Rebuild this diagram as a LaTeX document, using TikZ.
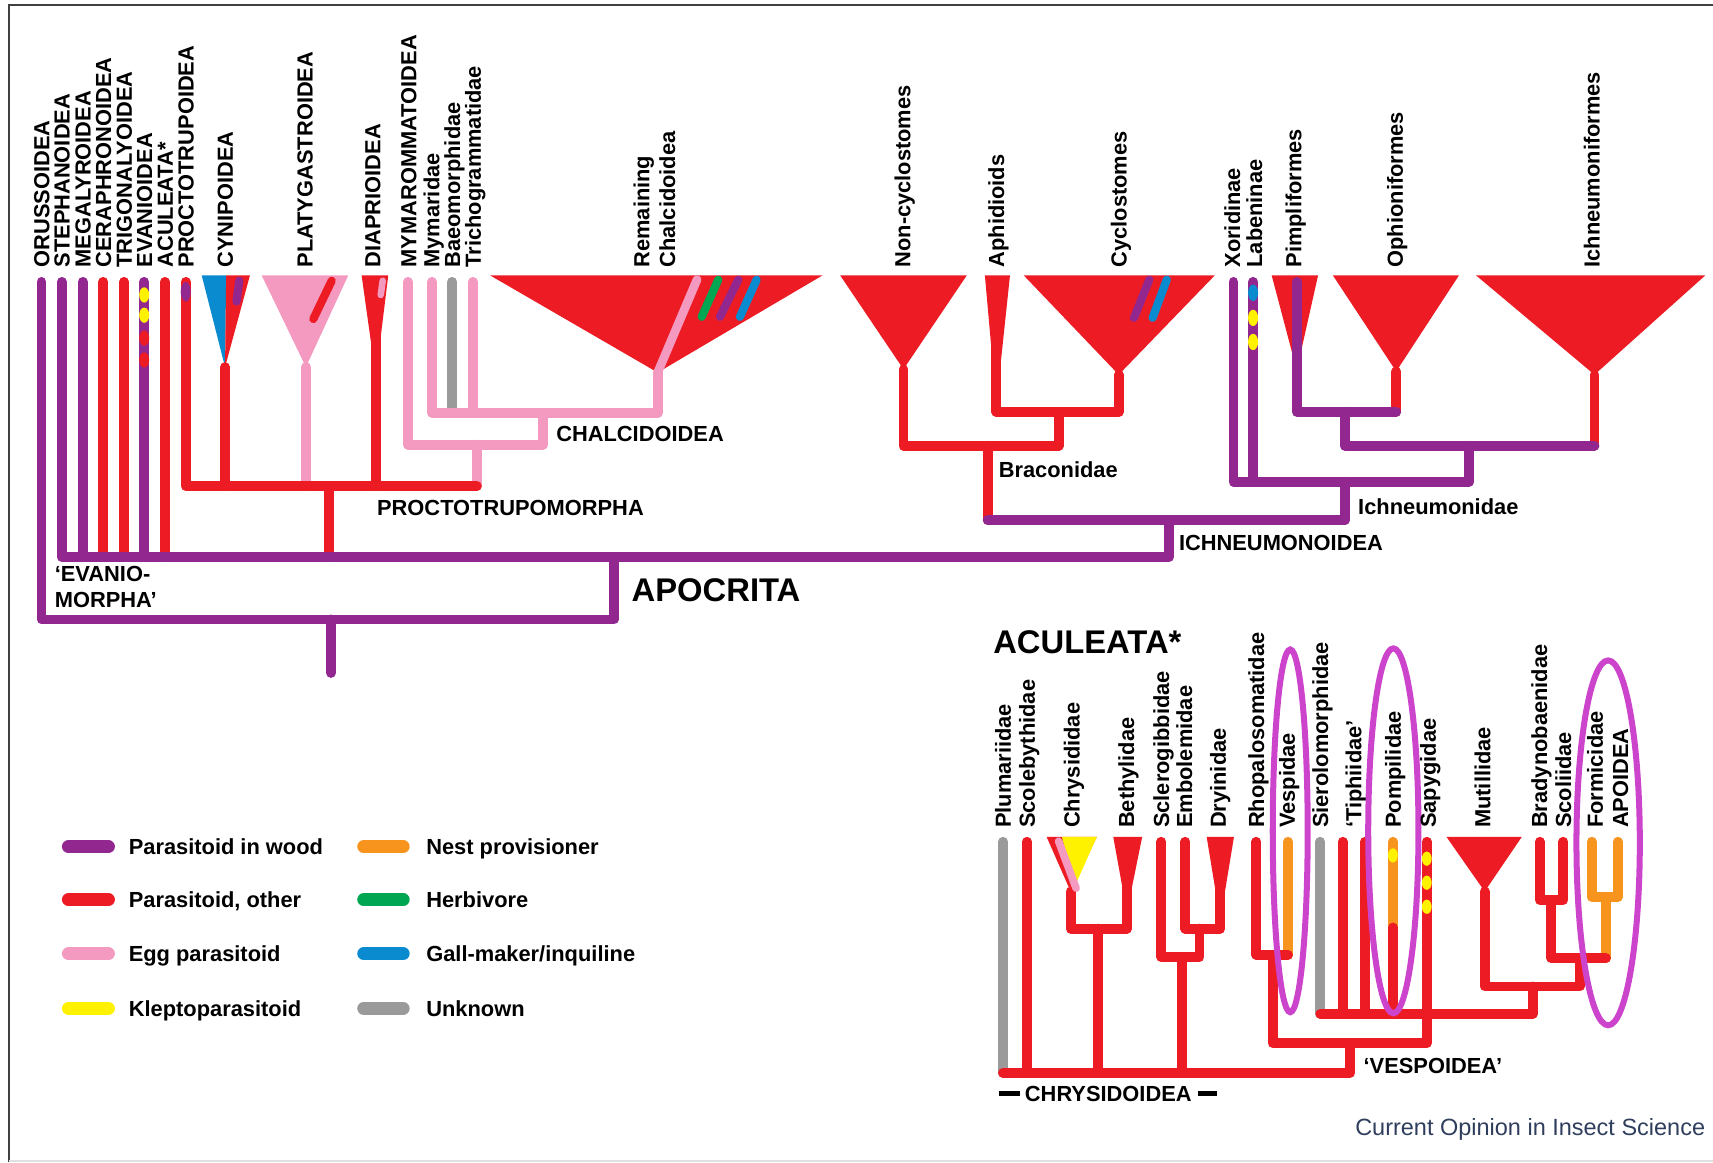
\documentclass[tikz,border=0pt]{standalone}
\usepackage{fontspec}
\setmainfont{Liberation Sans}
\usepackage{tikz}
\usetikzlibrary{positioning}
\definecolor{wood}{HTML}{92278F}
\definecolor{other}{HTML}{ED1C24}
\definecolor{egg}{HTML}{F49AC1}
\definecolor{klepto}{HTML}{FFF200}
\definecolor{nest}{HTML}{F7941D}
\definecolor{herb}{HTML}{00A651}
\definecolor{gall}{HTML}{0A8BD0}
\definecolor{unknown}{HTML}{9A9A9A}
\definecolor{ringc}{HTML}{CC44CC}
\definecolor{srcblue}{HTML}{2F3E5C}
\tikzset{
br/.style = {line width=9pt, line cap=round, line join=round},
streak/.style = {line width=7.5pt, line cap=round},
blob/.style = {fill=#1},
ring/.style = {draw=ringc, line width=5.5pt},
toplab/.style = {rotate=90, anchor=west, inner sep=0pt, text height=14.4pt, text depth=0pt,
  font=\bfseries\fontsize{20}{24}\selectfont},
grouplab/.style = {anchor=west, inner sep=0pt, text height=14.4pt, text depth=0pt,
  font=\bfseries\fontsize{20}{24}\selectfont},
biglab/.style = {anchor=west, inner sep=0pt, font=\bfseries\fontsize{30}{34}\selectfont}
}

\begin{document}
\begin{tikzpicture}[x=1pt,y=-1pt]
\useasboundingbox (0,0) rectangle (1568,1064);
\draw[black!75, line width=1.5pt] (8,1064) -- (8,4.5) -- (1568,4.5);
\draw[black!12, line width=1.5pt] (8,1062.5) -- (1568,1062.5);

% leaf tips and clade apices
\foreach \n/\x in {oru/38,ste/56.5,meg/75.7,cer/94.6,tri/113.5,eva/132,acu/151,pro/170,dia/344,
  mym/373.5,mymd/395.5,bae/414,tric/433,aph/912,xor/1129,lab/1147,pim/1187}
  \coordinate (\n) at (\x,258);
\foreach \n/\x in {plu/918,sco/940,bet/1031.5,scl/1063,emb/1085,dry/1117,rho/1150,ves/1179,
  sie/1208.5,tia/1229,tib/1249.5,pom/1275,sap/1306,brad/1409.5,scol/1431,form/1457,apoi/1481}
  \coordinate (\n) at (\x,770.5);
\coordinate (cyn) at (206,336);
\coordinate (pla) at (280,336);
\coordinate (rem) at (602,341);
\coordinate (nonc) at (827,338);
\coordinate (cyc) at (1024,343);
\coordinate (oph) at (1278,340);
\coordinate (ichf) at (1459.5,343);
\coordinate (chr) at (980,816);
\coordinate (mut) at (1359,816);
\coordinate (pomr) at (1275,849);
% junctions
\coordinate (root) at (303,567);
\coordinate (rootend) at (303,616);
\coordinate (apo) at (562,510);
\coordinate (ptm) at (301,445);
\coordinate (chal) at (497,378);
\coordinate (chalb) at (436.5,407);
\coordinate (bra1) at (969,377);
\coordinate (bra) at (904,408);
\coordinate (ichn) at (1070,476);
\coordinate (ic1) at (1231,377);
\coordinate (ic2) at (1345,408);
\coordinate (ic3) at (1231,441);
\coordinate (ch1) at (1005,850);
\coordinate (ch2) at (1098,850);
\coordinate (ch3) at (1082,876);
\coordinate (acub) at (1236,982);
\coordinate (v1) at (1165,874);
\coordinate (vesp) at (1236,955);
\coordinate (m1) at (1403,928);
\coordinate (m2) at (1403,903);
\coordinate (m3) at (1446,877);
\coordinate (m4) at (1420,824);
\coordinate (apd) at (1470,821);

% clades
\fill[gall] (184.6,252) -- (207,252) -- (cyn) -- cycle;
\fill[other] (207,252) -- (228.8,252) -- (cyn) -- cycle;
\fill[egg] (239.5,252) -- (318.8,252) -- (pla) -- cycle;
\fill[other] (331,252) -- (355.4,252) -- (344,345) -- cycle;
\fill[other] (448.5,252) -- (753,252) -- (rem) -- cycle;
\fill[other] (769,252) -- (885,252) -- (nonc) -- cycle;
\fill[other] (901.5,252) -- (924.5,252) -- (912,370) -- cycle;
\fill[other] (937,252) -- (1112,252) -- (cyc) -- cycle;
\fill[other] (1164,252) -- (1206.5,252) -- (1187,339) -- cycle;
\fill[other] (1220,252) -- (1335.5,252) -- (oph) -- cycle;
\fill[other] (1351,252) -- (1561,252) -- (ichf) -- cycle;
\fill[other] (958,766) -- (1004,766) -- (chr) -- cycle;
\fill[klepto] (972,766) -- (1004,766) -- (983.5,812) -- cycle;
\fill[other] (1019,766) -- (1045.5,766) -- (1031.5,835) -- cycle;
\fill[other] (1104.5,766) -- (1129.5,766) -- (1117,842) -- cycle;
\fill[other] (1324,766) -- (1393,766) -- (mut) -- cycle;

% Evaniomorpha, Apocrita
\draw[br,wood] (oru) |- (root) -| (apo);
\draw[br,wood] (root) -- (rootend);
\foreach \n/\c in {meg/wood,cer/other,tri/other,eva/wood,acu/other}
  \draw[br,\c] (\n) -- (\n |- apo);
\draw[br,other] (ptm) -- (ptm |- apo);
% Proctotrupomorpha
\draw[br,egg] (chalb) -- (chalb |- ptm);
\draw[br,egg] (pla) -- (pla |- ptm);
\draw[br,other] (cyn) -- (cyn |- ptm);
\draw[br,other] (dia) -- (dia |- ptm);
\draw[br,other] (pro) |- (chalb |- ptm);
\draw[br,unknown,shorten >=5pt] (bae) -- (bae |- chal);
\draw[br,egg] (tric) -- (tric |- chal);
\draw[br,egg] (mymd) |- (chal) -| (rem);
\draw[br,egg] (mym) |- (chal |- chalb) -- (chal);
\draw[br,wood] (ste) |- (apo) -| (ichn);
% Ichneumonoidea
\draw[br,other] (aph) |- (bra1) -| (cyc);
\draw[br,other] (nonc) |- (bra) -| (bra1);
\draw[br,other] (bra) -- (bra |- ichn);
\draw[br,other] (oph) -- (oph |- ic1);
\draw[br,other] (ichf) -- (ichf |- ic2);
\draw[br,wood] (pim) |- (oph |- ic1);
\draw[br,wood] (ic1) |- (ichf |- ic2);
\draw[br,wood] (lab) -- (lab |- ic3);
\draw[br,wood] (xor) |- (ic2 |- ic3) -- (ic2);
\draw[br,wood] (ic3) -- (ic3 |- ichn);
\draw[br,wood] (bra |- ichn) -- (ic3 |- ichn);
% Aculeata
\draw[br,unknown] (plu) -- (plu |- acub);
\draw[br,other] (sco) -- (sco |- acub);
\draw[br,other] (chr) |- (ch1) -| (bet);
\draw[br,other] (ch1) -- (ch1 |- acub);
\draw[br,other] (emb) |- (ch2) -| (dry);
\draw[br,other] (scl) |- (ch3) -| (ch2);
\draw[br,other] (ch3) -- (ch3 |- acub);
\draw[br,nest] (ves) -- (ves |- v1);
\draw[br,other] (rho) |- (v1) -- (ves |- v1);
\draw[br,other] (v1) |- (vesp) -| (sap);
\draw[br,other] (plu |- acub) -- (acub) -- (vesp);
\draw[br,unknown] (sie) -- (sie |- m1);
\draw[br,other] (tia) -- (tia |- m1);
\draw[br,other] (tib) -- (tib |- m1);
\draw[br,nest] (pom) -- (pomr);
\draw[br,other] (pomr) -- (pom |- m1);
\draw[br,other] (sie |- m1) -- (m1) -- (m2);
\draw[br,other] (mut) |- (m2) -| (m3);
\draw[br,other] (brad) |- (m4) -| (scol);
\draw[br,nest] (form) |- (apd) -| (apoi);
\draw[br,nest] (apd) -- (apd |- m3);
\draw[br,other] (m4) |- (apd |- m3);

% habits marked inside clades
\draw[streak,wood] (219,257) -- (216.5,276);
\draw[streak,other] (303.6,257) -- (286.8,292);
\draw[streak,egg,line width=6pt] (350.3,257) -- (348.5,270);
\draw[br,egg,line width=8pt] (638,256) -- (rem);
\draw[streak,herb] (657.5,256) -- (642.3,290);
\draw[streak,wood] (675.8,256) -- (659,290);
\draw[streak,gall] (692.6,256) -- (677.3,290);
\draw[streak,wood] (1052,256) -- (1038,291);
\draw[streak,gall] (1068,256) -- (1055,291);
\draw[streak,egg,line width=7pt] (969,770) -- (985,813);
\fill[blob=wood] (170,267) ellipse [x radius=4.6, y radius=9];
\foreach \y/\c in {270/klepto,288.5/klepto,309.5/other,329.5/other}
  \fill[blob=\c] (132,\y) ellipse [x radius=4.6, y radius=7];
\foreach \y/\c in {268/gall,291/klepto,313/klepto}
  \fill[blob=\c] (1147,\y) ellipse [x radius=4.6, y radius=7.5];
\fill[blob=klepto] (1275,783) ellipse [x radius=4.5, y radius=6.5];
\foreach \y in {786,808,830}
  \fill[blob=klepto] (1306,\y) ellipse [x radius=4.5, y radius=6.5];

\draw[ring] (1181,760.5) ellipse [x radius=16, y radius=166];
\draw[ring] (1275.4,760.5) ellipse [x radius=23, y radius=167];
\draw[ring] (1472,771.5) ellipse [x radius=29, y radius=167];

% taxon names
\foreach \x/\t [count=\i] in {38/ORUSSOIDEA,56.5/STEPHANOIDEA,75.7/MEGALYROIDEA,94.6/CERAPHRONOIDEA,
  113.5/TRIGONALYOIDEA,132/EVANIOIDEA,151/ACULEATA*,170/PROCTOTRUPOIDEA,206/CYNIPOIDEA,
  279/PLATYGASTROIDEA,341/DIAPRIOIDEA,374/MYMAROMMATOIDEA,395/Mymaridae,414/Baeomorphidae,
  433/Trichogrammatidae,826/Non-cyclostomes,912/Aphidioids,1024/Cyclostomes,1128/Xoridinae,
  1148/Labeninae,1184/Pimpliformes,1277/Ophioniformes,1457/Ichneumoniformes}
  \node[toplab] (top\i) at (\x,245) {\t};
\node[toplab, text height=, align=left, font=\bfseries\fontsize{20}{23.5}\selectfont]
  (remlab) at (599,245) {Remaining\\Chalcidoidea};
\foreach \x/\t [count=\i] in {918/Plumariidae,940/Scolebythidae,981/Chrysididae,1031/Bethylidae,
  1063/Sclerogibbidae,1084/Embolemidae,1115/Dryinidae,1150/Rhopalosomatidae,1178/Vespidae,
  1208.5/Sierolomorphidae,1239/‘Tiphiidae’,1275/Pompilidae,1307/Sapygidae,1357/Mutillidae,
  1409/Bradynobaenidae,1431/Scoliidae,1460/Formicidae,1483/APOIDEA}
  \node[toplab] (acl\i) at (\x,758) {\t};

\node[grouplab] (chalcl) at (509,396.5) {CHALCIDOIDEA};
\node[grouplab] (ptml) at (345,465) {PROCTOTRUPOMORPHA};
\node[grouplab] (bral) at (914,430) {Braconidae};
\node[grouplab] (ichl) at (1243,464) {Ichneumonidae};
\node[grouplab] (ichnl) at (1079,497) {ICHNEUMONOIDEA};
\node[grouplab, text height=, text depth=, align=left] (evl) at (50,537) {‘EVANIO-\\MORPHA’};
\node[biglab] (apol) at (578,540) {APOCRITA};
\node[biglab] (acul) at (909,588) {ACULEATA*};
\node[grouplab] (vesl) at (1248,975) {‘VESPOIDEA’};
\node[grouplab] (chrl) at (938,1001) {CHRYSIDOIDEA};
\draw[line width=4pt] ([xshift=-4pt]chrl.west) -- ++(-20,0);
\draw[line width=4pt] ([xshift=6pt]chrl.east) -- ++(17,0);
\node[anchor=east, inner sep=0pt, text=srcblue, font=\fontsize{21.5}{24}\selectfont]
  (src) at (1561,1034) {Current Opinion in Insect Science};

% legend
\foreach \c/\t/\y [count=\i] in {wood/Parasitoid in wood/775,other/{Parasitoid, other}/823.5,
  egg/Egg parasitoid/873,klepto/Kleptoparasitoid/923}{
  \node[grouplab] (lega\i) at (117.7,\y) {\t};
  \draw[line width=12pt, line cap=round, \c] ([xshift=-18.5pt]lega\i.west) -- ++(-36.5,0);
}
\foreach \c/\t/\y [count=\i] in {nest/Nest provisioner/775,herb/Herbivore/823.5,
  gall/{Gall-maker/inquiline}/873,unknown/Unknown/923}{
  \node[grouplab] (legb\i) at (390,\y) {\t};
  \draw[line width=12pt, line cap=round, \c] ([xshift=-21pt]legb\i.west) -- ++(-36,0);
}
\end{tikzpicture}
\end{document}
